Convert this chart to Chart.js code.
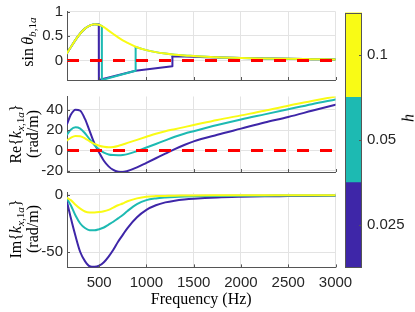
<!DOCTYPE html>
<html><head><meta charset="utf-8">
<script src="https://cdn.jsdelivr.net/npm/chart.js@4.4.0/dist/chart.umd.min.js"></script>
<style>
html,body{margin:0;padding:0;background:#fff;}
#wrap{position:relative;width:415px;height:312px;overflow:hidden;background:#fff;}
canvas{position:absolute;left:0;top:0;}
.yt{position:absolute;font-family:"Liberation Serif","Times New Roman",serif;font-size:16px;color:#000;white-space:nowrap;text-align:center;line-height:17px;transform:translate(-50%,-50%) rotate(-90deg);}
.yt sub{font-size:70%;vertical-align:-3px;line-height:0;}
</style></head><body>
<div id="wrap">
<canvas id="c1" width="415" height="312"></canvas>
<canvas id="c2" width="415" height="312"></canvas>
<canvas id="c3" width="415" height="312"></canvas>
<canvas id="c4" width="415" height="312"></canvas>
<div class="yt" style="left:27px;top:42px">sin&thinsp;<i>θ</i><sub><i>b</i>,1<i>a</i></sub></div>
<div class="yt" style="left:24px;top:134px">Re{<i>k</i><sub><i>x</i>,1<i>a</i></sub>}<br>(rad/m)</div>
<div class="yt" style="left:24px;top:229px">Im{<i>k</i><sub><i>x</i>,1<i>a</i></sub>}<br>(rad/m)</div>
<div class="yt" style="left:408px;top:118px"><i>h</i></div>
</div>
<script>
// ---------- data ----------
const xMin = 160, xMax = 3000;
const xTickVals = [500, 1000, 1500, 2000, 2500, 3000];
const freq = [160,200,250,300,350,400,450,500,550,600,650,700,750,800,900,1000,1100,1200,1300,1400,1500,1750,2000,2250,2500,2750,3000];

// sin(theta_b,1a)
const sinYellow = [0.15,0.27,0.42,0.55,0.65,0.71,0.74,0.73,0.68,0.61,0.54,0.47,0.41,0.36,0.27,0.21,0.17,0.14,0.115,0.1,0.09,0.065,0.05,0.04,0.032,0.026,0.02];
const sinTealFreq = [160,200,250,300,350,400,450,500,528,529,885,886,900,1000,1100,1200,1300,1400,1500,1750,2000,2250,2500,2750,3000];
const sinTeal = [0.15,0.27,0.42,0.55,0.65,0.71,0.74,0.73,0.70,-0.40,-0.21,0.27,0.265,0.21,0.17,0.14,0.115,0.1,0.09,0.065,0.05,0.04,0.032,0.026,0.02];
const sinTealJump = [8, 11];   // index range drawn as straight segments
const sinBlueFreq = [160,200,250,300,350,400,450,496,497,885,1274,1275,1300,1400,1500,1750,2000,2250,2500,2750,3000];
const sinBlue = [0.15,0.27,0.42,0.55,0.65,0.71,0.74,0.735,-0.40,-0.21,-0.117,0.08,0.08,0.078,0.074,0.06,0.048,0.04,0.032,0.026,0.02];
const sinBlueJump = [7, 11];
const sinTicks = [0, 0.5, 1];

// Re{k_x,1a}
const reYellow = [10,12.5,14.3,14,12,9,6.5,4.8,3.7,3.2,3.5,4.5,6,7.5,10.5,13.5,16.5,19,21,23,25,30,34.5,39,44,48.5,53];
const reTeal = [15.5,20.5,22.8,21.5,17,11,5.5,1,-2,-3.8,-4.4,-4.5,-4.3,-3.5,-0.5,3,6.5,10,13.5,16.5,19,25,30.5,35.5,40.5,45.5,50];
const reBlue = [26,35,40,39,31,19,7,-2,-10,-15.5,-19,-20.7,-21,-20,-16.5,-12,-7.5,-3,1.5,5.5,9,15.5,21.5,27.5,33,39,45];
const reTicks = [-20, 0, 20, 40];

// Im{k_x,1a}
const imYellow = [-2.5,-4.5,-8.5,-12,-14.5,-15.3,-15.3,-15,-14.3,-13,-11,-9,-7.5,-5.5,-3,-1.5,-1,-0.8,-0.6,-0.5,-0.4,-0.3,-0.25,-0.22,-0.2,-0.18,-0.16];
const imTeal = [-3.5,-9,-18,-25,-29,-31,-31,-30,-28.5,-26,-23.5,-20.5,-17.5,-14,-8,-4.5,-3,-2.2,-1.7,-1.4,-1.2,-0.9,-0.7,-0.6,-0.5,-0.45,-0.4];
const imBlue = [-6,-20,-36,-50,-58,-62.5,-63,-62,-59,-54,-48,-41,-35,-29,-19.5,-13,-9,-6.5,-5,-4,-3.3,-2.2,-1.6,-1.2,-1,-0.8,-0.7];
const imTicks = [-50, 0];

const zeroLineX = [xMin, xMax];
const zeroLineY = [0, 0];

// colour bar (h)
const hValues = [0.025, 0.05, 0.1];

// ---------- styles ----------
const cBlue = '#3E26A8', cTeal = '#1DBAB2', cYellow = '#F9FB15';
const hColors = [cBlue, cTeal, cYellow];
const tickFont = {family:'"Liberation Sans", Arial, sans-serif', size:15, lineHeight:1};
const tickColor = '#262626';
const gridColor = '#e3e3e3';
const axisColor = '#555555';

const xy = (fs, vs) => fs.map((f, i) => ({x: f, y: vs[i]}));

const innerTicks = {
  id: 'innerTicks',
  afterDatasetsDraw(chart, args, opts) {
    if (!opts || !opts.on) return;
    const ctx = chart.ctx, a = chart.chartArea, L = 3;
    ctx.save();
    ctx.strokeStyle = axisColor; ctx.lineWidth = 1;
    ctx.beginPath();
    const xs = chart.scales.x, ys = chart.scales.y;
    if (opts.x) xs.ticks.forEach(t => { const p = Math.round(xs.getPixelForValue(t.value)) + 0.5; ctx.moveTo(p, a.bottom); ctx.lineTo(p, a.bottom - L); });
    if (opts.yLeft) ys.ticks.forEach(t => { const p = Math.round(ys.getPixelForValue(t.value)) + 0.5; ctx.moveTo(a.left, p); ctx.lineTo(a.left + L, p); });
    if (opts.yRight) ys.ticks.forEach(t => { const p = Math.round(ys.getPixelForValue(t.value)) + 0.5; ctx.moveTo(a.right, p); ctx.lineTo(a.right - L, p); });
    ctx.stroke();
    if (opts.frame) ctx.strokeRect(Math.round(a.left) + 0.5, Math.round(a.top) + 0.5, Math.round(a.width) - 1, Math.round(a.height) - 1);
    ctx.restore();
  }
};
Chart.register(innerTicks);

function lineDs(data, color, straight) {
  const ds = {data, borderColor: color, backgroundColor: color, borderWidth: 2, pointRadius: 0, fill: false,
              borderCapStyle: 'round', borderJoinStyle: 'round'};
  if (straight) ds.tension = 0; else ds.cubicInterpolationMode = 'monotone';
  return ds;
}
// smooth parts + straight jump segment, all from the same arrays
function jumpSeries(fs, vs, jump, color) {
  const pts = xy(fs, vs);
  return [
    lineDs(pts.slice(jump[1]), color, false),
    lineDs(pts.slice(jump[0], jump[1] + 1), color, true),
    lineDs(pts.slice(0, jump[0] + 1), color, false)
  ];
}
function zeroDs() {
  return {data: xy(zeroLineX, zeroLineY), borderColor: '#FF0000', borderWidth: 3, borderDash: [12, 11], pointRadius: 0, fill: false, tension: 0};
}

const AREA_LEFT = 67, AREA_RIGHT = 335.5;

function makePanel(id, datasets, yMin, yMax, yTickVals, top, bottom, showX) {
  const xAxisH = showX ? 312 - bottom : 0;
  return new Chart(document.getElementById(id), {
    type: 'line',
    data: {datasets},
    options: {
      responsive: false, animation: false, events: [],
      layout: {padding: {left: 0, top: top, right: 415 - AREA_RIGHT, bottom: showX ? 0 : 312 - bottom}},
      plugins: {legend: {display: false}, tooltip: {enabled: false}, innerTicks: {on: true, x: true, yLeft: true}},
      scales: {
        x: {
          type: 'linear', min: xMin, max: xMax,
          afterBuildTicks: ax => { ax.ticks = xTickVals.map(v => ({value: v})); },
          afterFit: ax => { ax.height = xAxisH; },
          grid: {color: gridColor, lineWidth: 1, drawTicks: false},
          border: {display: true, color: axisColor, width: 1},
          ticks: {display: showX, padding: 8, font: tickFont, color: tickColor, maxRotation: 0, callback: v => String(v)},
          title: {display: showX, text: 'Frequency (Hz)', color: '#000', padding: {top: 0, bottom: 3},
                  font: {family: '"Liberation Serif", "Times New Roman", serif', size: 16, lineHeight: 1.2}}
        },
        y: {
          type: 'linear', min: yMin, max: yMax,
          afterBuildTicks: ax => { ax.ticks = yTickVals.map(v => ({value: v})); },
          afterFit: ax => { ax.width = AREA_LEFT; },
          grid: {color: gridColor, lineWidth: 1, drawTicks: false},
          border: {display: true, color: axisColor, width: 1},
          ticks: {padding: 4, font: tickFont, color: tickColor, callback: v => String(v)}
        }
      }
    }
  });
}

makePanel('c1', [
  zeroDs(),
  lineDs(xy(freq, sinYellow), cYellow, false),
  ...jumpSeries(sinTealFreq, sinTeal, sinTealJump, cTeal),
  ...jumpSeries(sinBlueFreq, sinBlue, sinBlueJump, cBlue)
], -0.4, 1, sinTicks, 9, 80, false);

makePanel('c2', [
  zeroDs(),
  lineDs(xy(freq, reYellow), cYellow, false),
  lineDs(xy(freq, reTeal), cTeal, false),
  lineDs(xy(freq, reBlue), cBlue, false)
], -21, 53, reTicks, 96.5, 172, false);

makePanel('c3', [
  lineDs(xy(freq, imYellow), cYellow, false),
  lineDs(xy(freq, imTeal), cTeal, false),
  lineDs(xy(freq, imBlue), cBlue, false)
], -63.5, 2, imTicks, 192.7, 267.4, true);

// colour bar
new Chart(document.getElementById('c4'), {
  type: 'bar',
  data: {
    labels: ['h'],
    datasets: hValues.map((h, i) => ({label: String(h), data: [1], backgroundColor: hColors[i], borderWidth: 0,
      barPercentage: 1, categoryPercentage: 1, stack: 'cb', inflateAmount: 0.5}))
  },
  options: {
    responsive: false, animation: false, events: [],
    layout: {padding: {left: 345, top: 10, right: 0, bottom: 312 - 267.7}},
    plugins: {legend: {display: false}, tooltip: {enabled: false}, innerTicks: {on: true, yRight: true, frame: true}},
    scales: {
      x: {display: false, stacked: true},
      y: {
        position: 'right', stacked: true, min: 0, max: hValues.length,
        afterBuildTicks: ax => { ax.ticks = hValues.map((h, i) => ({value: i + 0.5})); },
        afterFit: ax => { ax.width = 415 - 362; },
        grid: {display: false, drawTicks: false},
        border: {display: false},
        ticks: {padding: 5, font: tickFont, color: tickColor, callback: (v, i) => String(hValues[i])}
      }
    }
  }
});
</script>
</body></html>
